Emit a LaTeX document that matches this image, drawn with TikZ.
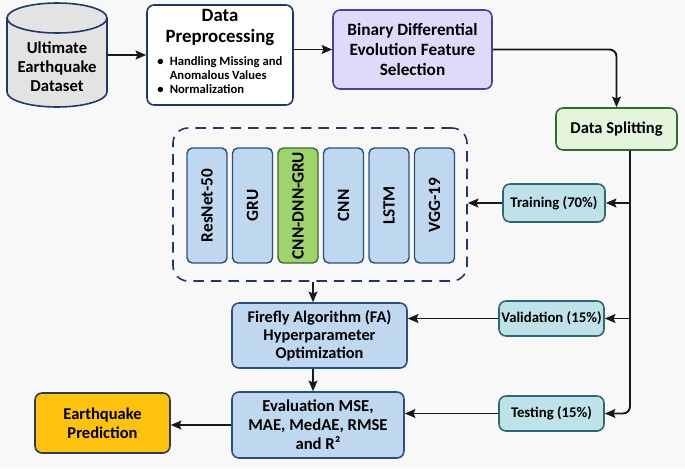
\documentclass[tikz,border=0pt]{standalone}
\usepackage{fontspec}
\setmainfont{Carlito}
\usetikzlibrary{arrows.meta, positioning, calc}
\usepackage{xcolor}
\definecolor{bggray}{HTML}{F8F8F8}
\definecolor{navyline}{HTML}{1F3864}
\definecolor{blueline}{HTML}{2B4F7E}
\definecolor{bluefill}{HTML}{C0D7F0}
\definecolor{greenline}{HTML}{3C6A2B}
\definecolor{greenfill}{HTML}{9FD36D}
\definecolor{purpleline}{HTML}{4B3FA0}
\definecolor{purplefill}{HTML}{E0D9FA}
\definecolor{splitline}{HTML}{2F6A30}
\definecolor{splitfill}{HTML}{E4F5DC}
\definecolor{tealline}{HTML}{2D6875}
\definecolor{tealfill}{HTML}{BEE2E8}
\definecolor{orangeline}{HTML}{2E3B4E}
\definecolor{orangefill}{HTML}{FFC20E}
\definecolor{cylfill}{HTML}{E3E3E3}
\tikzset{
    process/.style={rectangle, rounded corners=4pt, draw=blueline, fill=bluefill, line width=0.9pt, inner sep=0pt, align=center, font=\fontsize{9.4}{10.6}\selectfont\bfseries},
    modelbox/.style={rectangle, rounded corners=3pt, draw=blueline, fill=bluefill, line width=0.8pt, inner sep=0pt, minimum width=2.3cm, minimum height=0.8cm, font=\fontsize{9.8}{10}\selectfont\bfseries},
    hybridbox/.style={modelbox, draw=greenline, fill=greenfill},
    splitbox/.style={rectangle, rounded corners=4pt, draw=tealline, fill=tealfill, line width=0.9pt, inner sep=0pt, font=\fontsize{8.4}{9}\selectfont\bfseries},
    arrow/.style={line width=1.1pt, draw=black!90, ->, >={Stealth[length=6pt, width=5pt, inset=1pt]}}
}

\begin{document}
\begin{tikzpicture}[x=0.02cm, y=0.02cm]
    \fill[bggray] (0,0) rectangle (685,468);
    \useasboundingbox (0,0) rectangle (685,468);

    % dataset cylinder
    \draw[navyline, fill=cylfill, line width=0.9pt] (7,450) -- (7,376)
        arc[start angle=180, end angle=360, x radius=1cm, y radius=0.3cm] -- (107,450)
        arc[start angle=0, end angle=180, x radius=1cm, y radius=0.3cm] -- cycle;
    \draw[navyline, line width=0.9pt] (7,450) arc[start angle=180, end angle=360, x radius=1cm, y radius=0.3cm];
    \node[minimum width=2cm, inner sep=0pt, align=center, font=\fontsize{9.5}{10.8}\selectfont\bfseries] (dataset) at (57,401) {Ultimate\\Earthquake\\Dataset};

    % preprocessing
    \node[process, draw=navyline, fill=white, minimum width=2.92cm, minimum height=2cm] (prep) at (220,413) {};
    \node[align=center, font=\fontsize{10.7}{11.9}\selectfont\bfseries] (preptitle) at (220,440.5) {Data\\Preprocessing};
    \node[anchor=west, inner sep=0pt, font=\fontsize{7.2}{7.6}\selectfont\bfseries] (preplist) at (157,391)
        {\begin{tabular}{@{}l@{\hspace{3.5pt}}l@{}}
            \textbullet & Handling Missing and\\
                        & Anomalous Values\\[0.5pt]
            \textbullet & Normalization
        \end{tabular}};

    \node[process, draw=purpleline, fill=purplefill, minimum width=3.18cm, minimum height=1.58cm,
          font=\fontsize{9.8}{11.3}\selectfont\bfseries] (binary) at (412.5,418.5)
          {Binary Differential\\Evolution Feature\\Selection};
    \node[process, draw=splitline, fill=splitfill, minimum width=2.42cm, minimum height=0.84cm] (split) at (616.5,339) {Data Splitting};

    % split outputs
    \node[splitbox, minimum width=2.04cm, minimum height=0.76cm] (train) at (554,265) {Training (70\%)};
    \node[splitbox, minimum width=2.1cm, minimum height=0.7cm] (valid) at (551.5,149.5) {Validation (15\%)};
    \node[splitbox, minimum width=2.1cm, minimum height=0.7cm] (test) at (551.5,54.5) {Testing (15\%)};

    % candidate models
    \node[draw=navyline, dashed, dash pattern=on 6pt off 4pt, line width=0.9pt, rounded corners=0.3cm,
          minimum width=5.88cm, minimum height=3.06cm] (models) at (320,263.5) {};
    \foreach \lab/\sty [count=\i] in {ResNet-50/modelbox, GRU/modelbox, CNN-DNN-GRU/hybridbox,
                                      CNN/modelbox, LSTM/modelbox, VGG-19/modelbox}
        \node[\sty, rotate=90] (m\i) at ({207+(\i-1)*45.5},262.5) {\lab};

    \node[process, minimum width=3.5cm, minimum height=1.3cm, font=\fontsize{9.3}{10.3}\selectfont\bfseries] (fa) at (319.5,132.5)
        {Firefly Algorithm (FA)\\Hyperparameter\\Optimization};
    \node[process, minimum width=3.44cm, minimum height=1.32cm, font=\fontsize{9.5}{10.8}\selectfont\bfseries] (eval) at (318,43)
        {Evaluation MSE,\\MAE, MedAE, RMSE\\and R²};
    \node[process, draw=orangeline, fill=orangefill, minimum width=2.7cm, minimum height=1.2cm] (pred) at (102.5,45)
        {Earthquake\\Prediction};

    % connectors
    \draw[arrow] (dataset.east |- prep.west) -- (prep.west);
    \draw[arrow] (prep.east |- binary.west) -- (binary.west);
    \draw[arrow, rounded corners=4pt] (binary.east) -- (split.north |- binary.east) -- (split.north);
    \coordinate (trunk) at ([xshift=0.27cm]split.south);
    \draw[arrow, rounded corners=4pt] (trunk) |- (test.east);
    \draw[arrow] (trunk |- train.east) -- (train.east);
    \draw[arrow] (trunk |- valid.east) -- (valid.east);
    \draw[arrow] (train.west) -- (train.west -| models.east);
    \draw[arrow] (models.south -| 313,0) -- (fa.north -| 313,0);
    \draw[arrow] (valid.west) -- (valid.west -| fa.east);
    \draw[arrow] (fa.south -| 313,0) -- (eval.north -| 313,0);
    \draw[arrow] (test.west) -- (test.west -| eval.east);
    \draw[arrow] (eval.west) -- (eval.west -| pred.east);
\end{tikzpicture}
\end{document}
